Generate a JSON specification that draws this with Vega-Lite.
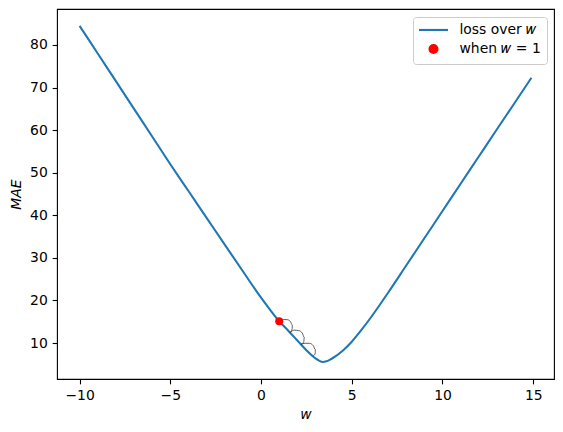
{
  "$schema": "https://vega.github.io/schema/vega-lite/v6.json",
  "width": 497,
  "height": 370,
  "autosize": {"type": "none"},
  "padding": {"left": 57, "top": 9, "right": 9, "bottom": 53},
  "background": "white",
  "datasets": {
    "curve": [
      {"w": -10, "mae": 84.5}, {"w": -9, "mae": 78.0}, {"w": -8, "mae": 71.5},
      {"w": -7, "mae": 65.0}, {"w": -6, "mae": 58.5}, {"w": -5, "mae": 52.0},
      {"w": -4, "mae": 45.7}, {"w": -3, "mae": 39.4}, {"w": -2, "mae": 33.1},
      {"w": -1, "mae": 26.85}, {"w": 0, "mae": 20.65}, {"w": 0.5, "mae": 17.8},
      {"w": 1, "mae": 15.1}, {"w": 1.5, "mae": 12.9}, {"w": 2, "mae": 10.6},
      {"w": 2.5, "mae": 8.3}, {"w": 3, "mae": 6.4}, {"w": 3.2, "mae": 5.85},
      {"w": 3.4, "mae": 5.55}, {"w": 3.6, "mae": 5.7}, {"w": 3.8, "mae": 6.1},
      {"w": 4, "mae": 6.6}, {"w": 4.5, "mae": 8.2}, {"w": 5, "mae": 10.3},
      {"w": 5.5, "mae": 12.9}, {"w": 6, "mae": 15.7}, {"w": 6.5, "mae": 18.7},
      {"w": 7, "mae": 21.8}, {"w": 8, "mae": 28.2}, {"w": 9, "mae": 34.6},
      {"w": 10, "mae": 41.0}, {"w": 11, "mae": 47.4}, {"w": 12, "mae": 53.8},
      {"w": 13, "mae": 60.2}, {"w": 14, "mae": 66.55}, {"w": 14.9, "mae": 72.3}
    ],
    "arcs": [
      {"arc": 1, "i": 0, "w": 1.0, "mae": 15.1},
      {"arc": 1, "i": 1, "w": 1.236, "mae": 15.52},
      {"arc": 1, "i": 2, "w": 1.445, "mae": 15.49},
      {"arc": 1, "i": 3, "w": 1.623, "mae": 15.02},
      {"arc": 1, "i": 4, "w": 1.722, "mae": 14.23},
      {"arc": 1, "i": 5, "w": 1.715, "mae": 13.34},
      {"arc": 1, "i": 6, "w": 1.6, "mae": 12.45},
      {"arc": 2, "i": 0, "w": 1.6, "mae": 12.45},
      {"arc": 2, "i": 1, "w": 1.829, "mae": 13.02},
      {"arc": 2, "i": 2, "w": 2.075, "mae": 12.92},
      {"arc": 2, "i": 3, "w": 2.276, "mae": 12.32},
      {"arc": 2, "i": 4, "w": 2.379, "mae": 11.36},
      {"arc": 2, "i": 5, "w": 2.356, "mae": 10.32},
      {"arc": 2, "i": 6, "w": 2.2, "mae": 9.68},
      {"arc": 3, "i": 0, "w": 2.2, "mae": 9.68},
      {"arc": 3, "i": 1, "w": 2.426, "mae": 9.95},
      {"arc": 3, "i": 2, "w": 2.669, "mae": 9.93},
      {"arc": 3, "i": 3, "w": 2.876, "mae": 9.39},
      {"arc": 3, "i": 4, "w": 2.992, "mae": 8.48},
      {"arc": 3, "i": 5, "w": 2.987, "mae": 7.6},
      {"arc": 3, "i": 6, "w": 2.86, "mae": 6.9}
    ],
    "point": [{"w": 1, "mae": 15.1}]
  },
  "encoding": {
    "x": {
      "field": "w", "type": "quantitative",
      "scale": {"domain": [-11.245, 16.145], "nice": false, "zero": false},
      "axis": {"title": "w", "values": [-10, -5, 0, 5, 10, 15], "format": "d"}
    },
    "y": {
      "field": "mae", "type": "quantitative",
      "scale": {"domain": [1.55, 88.45], "nice": false, "zero": false},
      "axis": {"title": "MAE", "values": [10, 20, 30, 40, 50, 60, 70, 80], "format": "d"}
    }
  },
  "layer": [
    {
      "data": {"name": "curve"},
      "mark": {"type": "line", "strokeWidth": 2.08, "clip": true, "interpolate": "monotone"},
      "encoding": {
        "color": {
          "datum": "loss over 𝑤",
          "type": "nominal",
          "scale": {"domain": ["loss over 𝑤", "when 𝑤 = 1"], "range": ["#1f77b4", "#ff0000"]},
          "legend": {
            "title": null,
            "orient": "top-right",
            "offset": 7.5,
            "encode": {
              "symbols": {
                "update": {
                  "x": {"value": 14.5},
                  "shape": {"signal": "datum.value === 'loss over 𝑤' ? 'stroke' : 'circle'"},
                  "size": {"signal": "datum.value === 'loss over 𝑤' ? 841 : 64"},
                  "fill": {"signal": "datum.value === 'loss over 𝑤' ? 'transparent' : '#ff0000'"},
                  "stroke": {"signal": "datum.value === 'loss over 𝑤' ? '#1f77b4' : 'transparent'"},
                  "strokeWidth": {"value": 2.08},
                  "opacity": {"value": 1}
                }
              },
              "labels": {
                "update": {"x": {"value": 40.5}}
              }
            }
          }
        }
      }
    },
    {
      "data": {"name": "arcs"},
      "mark": {"type": "line", "stroke": "#333333", "strokeWidth": 0.8, "interpolate": "monotone"},
      "encoding": {
        "detail": {"field": "arc", "type": "nominal"},
        "order": {"field": "i", "type": "quantitative"}
      }
    },
    {
      "data": {"name": "point"},
      "mark": {"type": "circle", "size": 64, "opacity": 1},
      "encoding": {
        "color": {"datum": "when 𝑤 = 1", "type": "nominal"}
      }
    }
  ],
  "config": {
    "view": {"stroke": "black", "strokeWidth": 1.1},
    "font": "DejaVu Sans",
    "axis": {
      "domain": false,
      "grid": false,
      "tickColor": "black",
      "tickSize": 4.86,
      "tickWidth": 1.1,
      "labelFont": "DejaVu Sans",
      "labelFontSize": 13.9,
      "labelColor": "black",
      "labelPadding": 4.86,
      "titleFont": "DejaVu Sans",
      "titleFontSize": 13.9,
      "titleFontWeight": "normal",
      "titleFontStyle": "italic",
      "titleColor": "black"
    },
    "axisX": {"titlePadding": 5},
    "axisY": {"titlePadding": 6},
    "legend": {
      "padding": 6,
      "fillColor": "white",
      "strokeColor": "#cccccc",
      "cornerRadius": 3,
      "labelFont": "DejaVu Sans",
      "labelFontSize": 13.9,
      "labelColor": "black",
      "symbolSize": 841,
      "rowPadding": 3,
      "labelOffset": 11
    }
  }
}
